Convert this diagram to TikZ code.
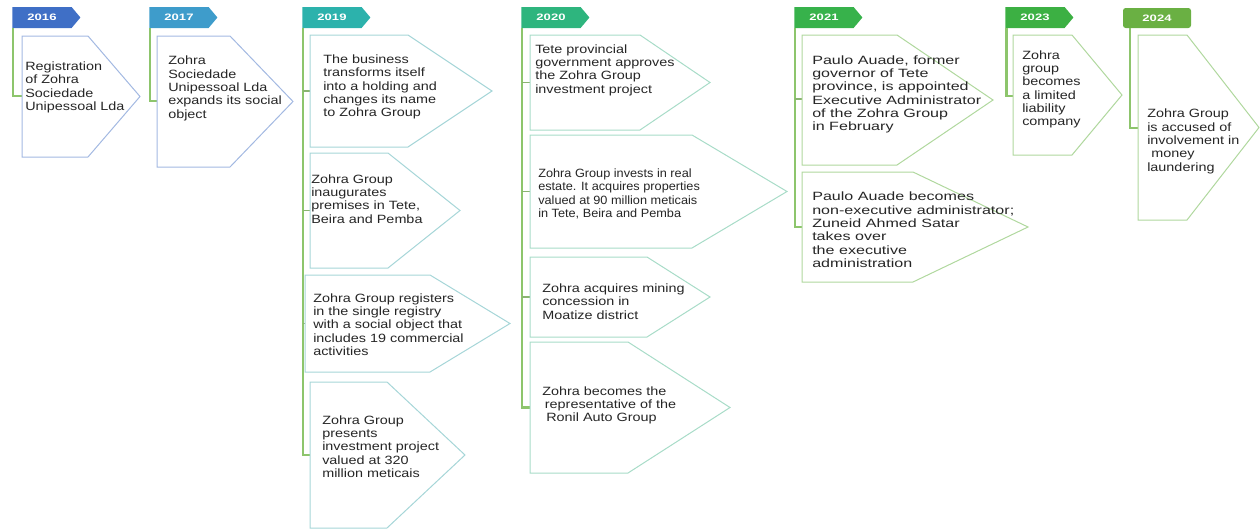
\documentclass[tikz,border=0pt]{standalone}
\usepackage{fontspec}
\usetikzlibrary{shapes.symbols}
\setmainfont{Liberation Sans}
\newfontfamily\evfont[FakeStretch=1.2]{Liberation Sans}
\newfontfamily\evnarrow[FakeStretch=1.06]{Liberation Sans}
\newfontfamily\evwide[FakeStretch=1.34]{Liberation Sans}
\newfontfamily\tabfont[FakeStretch=1.4]{Liberation Sans}
\definecolor{tab16}{HTML}{3F6FC6}
\definecolor{tab17}{HTML}{3E9CCB}
\definecolor{tab19}{HTML}{2CB2AC}
\definecolor{tab20}{HTML}{2EB57E}
\definecolor{tab21}{HTML}{37B24B}
\definecolor{tab23}{HTML}{3CB043}
\definecolor{tab24}{HTML}{6AB043}
\definecolor{edge17}{HTML}{A3B9E2}
\definecolor{edge19}{HTML}{A6D6D8}
\definecolor{edge20}{HTML}{A8DCC8}
\definecolor{edge21}{HTML}{B0D89E}
\definecolor{lgreen}{HTML}{8DC56C}
\definecolor{evgray}{HTML}{262626}
\tikzset{
  yeartab/.style={signal,signal to=east,signal pointer angle=100,fill=#1,minimum width=51pt,minimum height=15.75pt,inner sep=0pt,text=white,font=\tabfont\bfseries\fontsize{7}{8}\selectfont},
  yearbox/.style={rectangle,rounded corners=2pt,fill=#1,minimum width=51pt,minimum height=15pt,inner sep=0pt,text=white,font=\tabfont\bfseries\fontsize{7}{8}\selectfont},
  evbox/.style={draw=#1,line width=0.75pt,fill=white},
  evtext/.style={anchor=west,align=left,inner sep=0pt,text=evgray,font=\evfont\fontsize{9}{10}\selectfont},
  evtextn/.style={evtext,font=\evnarrow\fontsize{9}{10}\selectfont},
  evtextw/.style={evtext,font=\evwide\fontsize{9}{10}\selectfont},
  tline/.style={draw=lgreen,line width=2pt},
  ttick/.style={draw=lgreen!75!gray,line width=0.8pt}
}
% arrow shaped event box: colour, left, right, tip, top, bottom
\newcommand{\eventbox}[6]{\path[evbox=#1] (#2,#5) -- (#3,#5) -- (#4,{(#5+#6)/2}) -- (#3,#6) -- (#2,#6) -- cycle;}
\begin{document}
\begin{tikzpicture}[x=0.75pt,y=-0.75pt]
  \useasboundingbox (0,0) rectangle (1260,529);
  % year tabs
  \node[yeartab=tab16](y2016) at (42,17.5){2016};
  \node[yeartab=tab17](y2017) at (179,17.5){2017};
  \node[yeartab=tab19](y2019) at (332,17.5){2019};
  \node[yeartab=tab20](y2020) at (551,17.5){2020};
  \node[yeartab=tab21](y2021) at (824,17.5){2021};
  \node[yeartab=tab23](y2023) at (1035,17.5){2023};
  \node[yearbox=tab24](y2024) at (1157,18){2024};
  % start of each time line
  \coordinate (l2016) at ([xshift=-21.75pt]y2016.south);
  \coordinate (l2017) at ([xshift=-21.75pt]y2017.south);
  \coordinate (l2019) at ([xshift=-21.75pt]y2019.south);
  \coordinate (l2020) at ([xshift=-21.75pt]y2020.south);
  \coordinate (l2021) at ([xshift=-21.75pt]y2021.south);
  \coordinate (l2023) at ([xshift=-21.25pt]y2023.south);
  \coordinate (l2024) at ([xshift=-20.25pt]y2024.south);
  % left middle of each event box
  \coordinate (p2016) at (22,96);
  \coordinate (p2017) at (157,101);
  \coordinate (p2019a) at (310,91);
  \coordinate (p2019b) at (310,210.5);
  \coordinate (p2019c) at (305,323.5);
  \coordinate (p2019d) at (310,455);
  \coordinate (p2020a) at (530,82.5);
  \coordinate (p2020b) at (530,191.5);
  \coordinate (p2020c) at (530,297);
  \coordinate (p2020d) at (530,407.5);
  \coordinate (p2021a) at (802,99);
  \coordinate (p2021b) at (802,227);
  \coordinate (p2023) at (1013,96);
  \coordinate (p2024) at (1138,128);
  % draw time lines
  \draw[tline] (l2016) |- (p2016);
  \draw[tline] (l2017) |- (p2017);
  \draw[tline] (l2019) |- (p2019d);
  \draw[tline] (l2020) |- (p2020d);
  \draw[tline] (l2021) |- (p2021b);
  \draw[tline] (l2023) |- (p2023);
  \draw[tline] (l2024) |- (p2024);
  \foreach \p/\l in {p2019a/l2019,p2019b/l2019,p2019c/l2019,p2020a/l2020,p2020b/l2020,p2020c/l2020,p2021a/l2021}
    \draw[ttick] (\l |- \p) -- (\p);
  % draw event boxes
  \eventbox{edge17}{22}{88}{140}{36}{157}
  \eventbox{edge17}{157}{230}{293}{36}{167}
  \eventbox{edge19}{310}{408}{492}{35}{147}
  \eventbox{edge19}{310}{388}{460}{153}{268}
  \eventbox{edge19}{305}{430}{510}{275}{372}
  \eventbox{edge19}{310}{387}{465}{382}{528}
  \eventbox{edge20}{530}{640}{710}{35}{130}
  \eventbox{edge20}{530}{692}{787}{135}{248}
  \eventbox{edge20}{530}{647}{710}{257}{337}
  \eventbox{edge20}{530}{628}{730}{342}{473}
  \eventbox{edge21}{802}{897}{993}{35}{165}
  \eventbox{edge21}{802}{913}{1028}{172}{282}
  \eventbox{edge21}{1013}{1072}{1122}{35}{155}
  \eventbox{edge21}{1138}{1187}{1259}{35}{220}
  % event texts
  \node[evtext](e2016) at (25,87.5){Registration\\of Zohra\\Sociedade\\Unipessoal Lda};
  \node[evtext](e2017) at (168,88.5){Zohra\\Sociedade\\Unipessoal Lda\\expands its social\\object};
  \node[evtext](e2019a) at (323,87){The business\\transforms itself\\into a holding and\\changes its name\\to Zohra Group};
  \node[evtext](e2019b) at (311,199){Zohra Group\\inaugurates\\premises in Tete,\\Beira and Pemba};
  \node[evtext](e2019c) at (313,324.5){Zohra Group registers\\in the single registry\\with a social object that\\includes 19 commercial\\activities};
  \node[evtext](e2019d) at (322,446.5){Zohra Group\\presents\\investment project\\valued at 320\\million meticais};
  \node[evtext](e2020a) at (535,70){Tete provincial\\government approves\\the Zohra Group\\investment project};
  \node[evtextn](e2020b) at (538,194){Zohra Group invests in real\\estate. It acquires properties\\valued at 90 million meticais\\in Tete, Beira and Pemba};
  \node[evtext](e2020c) at (542,301.5){Zohra acquires mining\\concession in\\Moatize district};
  \node[evtext](e2020d) at (542,405.5){Zohra becomes the\\\hspace*{2pt}representative of the\\\hspace*{3pt}Ronil Auto Group};
  \node[evtextw](e2021a) at (812,94.5){Paulo Auade, former\\governor of Tete\\province, is appointed\\Executive Administrator\\of the Zohra Group\\in February};
  \node[evtextw](e2021b) at (812,230){Paulo Auade becomes\\non-executive administrator;\\Zuneid Ahmed Satar\\takes over\\the executive\\administration};
  \node[evtext](e2023) at (1022,89.5){Zohra\\group\\becomes\\a limited\\liability\\company};
  \node[evtext](e2024) at (1147,141.5){Zohra Group\\is accused of\\involvement in\\\hspace*{3pt}money\\laundering};
\end{tikzpicture}
\end{document}
